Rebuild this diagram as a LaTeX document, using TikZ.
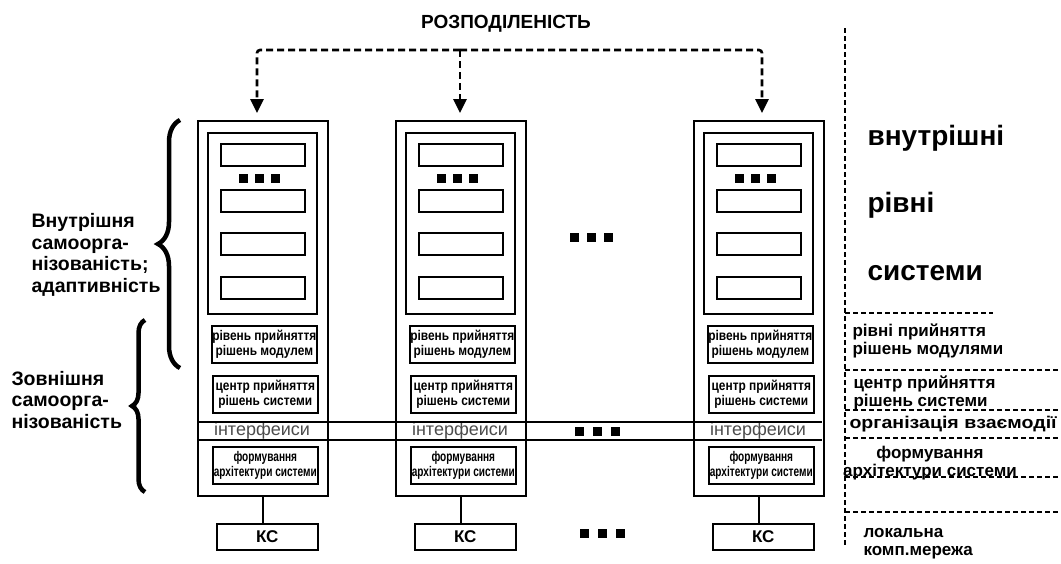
\documentclass[tikz,border=0pt]{standalone}
\usepackage{fontspec}
\setmainfont{Liberation Sans}
\newfontfamily\narrowfont[FakeStretch=0.85]{Liberation Sans}
\newfontfamily\narrowerfont[FakeStretch=0.72]{Liberation Sans}
\newfontfamily\widefont[FakeStretch=1.15]{Liberation Sans}
\usetikzlibrary{arrows.meta,decorations.pathreplacing}
\begin{document}
\begin{tikzpicture}[x=1pt,y=-1pt,
  box/.style={draw, line width=1.6pt, inner sep=0pt, anchor=north west},
  boxtext/.style={box, align=center, font=\narrowfont\bfseries\fontsize{14}{15.5}\selectfont},
  boxtextn/.style={box, align=center, font=\narrowerfont\bfseries\fontsize{14}{15.5}\selectfont},
  dasharrow/.style={line width=2.6pt, dash pattern=on 7pt off 4pt, rounded corners=3pt},
  tip/.style={-{Triangle[width=13pt,length=14pt]}},
  rdash/.style={line width=2pt, dash pattern=on 5pt off 3pt},
  bracestyle/.style={line width=4.5pt, decorate},
  lefttext/.style={anchor=west, align=left, font=\bfseries\fontsize{19.5}{21.5}\selectfont},
  bigtext/.style={anchor=west, font=\bfseries\fontsize{28}{30}\selectfont},
  rtext/.style={anchor=west, align=left, font=\bfseries\fontsize{17}{18}\selectfont},
  sq/.style={fill=black}]
\useasboundingbox (0,0) rectangle (1061,563);
\fill[white] (0,0) rectangle (1061,563);

% title
\node[font=\bfseries\fontsize{19}{21}\selectfont] (title) at (506,24) {РОЗПОДІЛЕНІСТЬ};

\foreach \i/\L in {1/197,2/395,3/693}{
  \node[box, minimum width=130pt, minimum height=375pt] (outer\i) at (\L,120) {};
  \node[box, minimum width=109pt, minimum height=181pt] (inner\i) at (\L+10,132) {};
  \node[box, minimum width=84pt, minimum height=22pt] (m\i a) at (\L+23,143) {};
  \node[box, minimum width=84pt, minimum height=22pt] (m\i b) at (\L+23,189) {};
  \node[box, minimum width=84pt, minimum height=22pt] (m\i c) at (\L+23,232) {};
  \node[box, minimum width=84pt, minimum height=22pt] (m\i d) at (\L+23,276) {};
  \fill[sq] (\L+42,174) rectangle +(9,9);
  \fill[sq] (\L+58,174) rectangle +(9,9);
  \fill[sq] (\L+74,174) rectangle +(9,9);
  \node[boxtext, minimum width=105pt, minimum height=37pt] (lvl\i) at (\L+14,325) {рівень прийняття\\рішень модулем};
  \node[boxtext, minimum width=105pt, minimum height=37pt] (ctr\i) at (\L+15,375) {центр прийняття\\рішень системи};
  \node[boxtextn, minimum width=105pt, minimum height=37pt] (arc\i) at (\L+15,446) {формування\\архітектури системи};
  \node[font=\fontsize{18}{20}\selectfont, text=black!70] (if\i) at (\L+65,431) {інтерфеиси};
  \node[box, minimum width=101pt, minimum height=26pt, font=\bfseries\fontsize{17}{18}\selectfont] (kc\i) at (\L+19,523) {КС};
  \draw[line width=2pt] (outer\i.south) -- (outer\i.south |- kc\i.north);
}

% interface band
\coordinate (ifa) at (197,422);
\coordinate (ifb) at (822,422);
\coordinate (ifc) at (197,440);
\coordinate (ifd) at (822,440);
\draw[line width=1.6pt] (ifa) -- (ifb);
\draw[line width=1.6pt] (ifc) -- (ifd);

% middle dots
\foreach \x/\y in {570/233,587/233,604/233,575/427,593/427,611/427,580/529,598/529,616/529}{
  \fill[sq] (\x,\y) rectangle +(9,9);
}

% distribution arrows
\coordinate (d1) at (257,50);
\coordinate (d2) at (460,50);
\coordinate (d3) at (762,50);
\draw[dasharrow, tip, shorten >=7pt] (d2) -- (d1) -- (d1 |- outer1.north);
\draw[dasharrow, tip, shorten >=7pt] (d2) -- (d3) -- (d3 |- outer3.north);
\draw[dasharrow, tip, shorten >=7pt] (d2) -- (d2 |- outer2.north);

% braces
\coordinate (b1s) at (180,368);
\coordinate (b1e) at (180,120);
\coordinate (b2s) at (145,492);
\coordinate (b2e) at (145,320);
\draw[bracestyle, decoration={brace, amplitude=22pt}] (b1s) -- (b1e);
\draw[bracestyle, decoration={brace, amplitude=13pt}] (b2s) -- (b2e);

\node[lefttext] (intself) at (28,255) {Внутрішня\\самоорга-\\нізованість;\\адаптивність};
\node[lefttext] (extself) at (8,400) {Зовнішня\\самоорга-\\нізованість};

% right-hand levels
\coordinate (v1) at (845,28);
\coordinate (v2) at (845,545);
\draw[rdash] (v1) -- (v2);
\coordinate (h1a) at (845,313); \coordinate (h1b) at (993,313);
\coordinate (h2a) at (845,370); \coordinate (h2b) at (1061,370);
\coordinate (h3a) at (845,410); \coordinate (h3b) at (1061,410);
\coordinate (h4a) at (845,438); \coordinate (h4b) at (1061,438);
\coordinate (h5a) at (845,477); \coordinate (h5b) at (1061,477);
\coordinate (h6a) at (845,512); \coordinate (h6b) at (1061,512);
\foreach \k in {1,...,6}{\draw[rdash] (h\k a) -- (h\k b);}

\node[bigtext] (r1) at (864,138) {внутрішні};
\node[bigtext] (r2) at (864,205) {рівні};
\node[bigtext] (r3) at (864,273) {системи};
\node[rtext] (r4) at (849,341) {рівні прийняття\\рішень модулями};
\node[rtext] (r5) at (850,393) {центр прийняття\\рішень системи};
\node[rtext, font=\widefont\bfseries\fontsize{17}{18}\selectfont] (r6) at (846,424) {організація взаємодії};
\node[rtext, anchor=center, align=center] (r7) at (930,463) {формування\\архітектури системи};
\node[rtext] (r8) at (860,544) {локальна\\комп.мережа};
\end{tikzpicture}
\end{document}
